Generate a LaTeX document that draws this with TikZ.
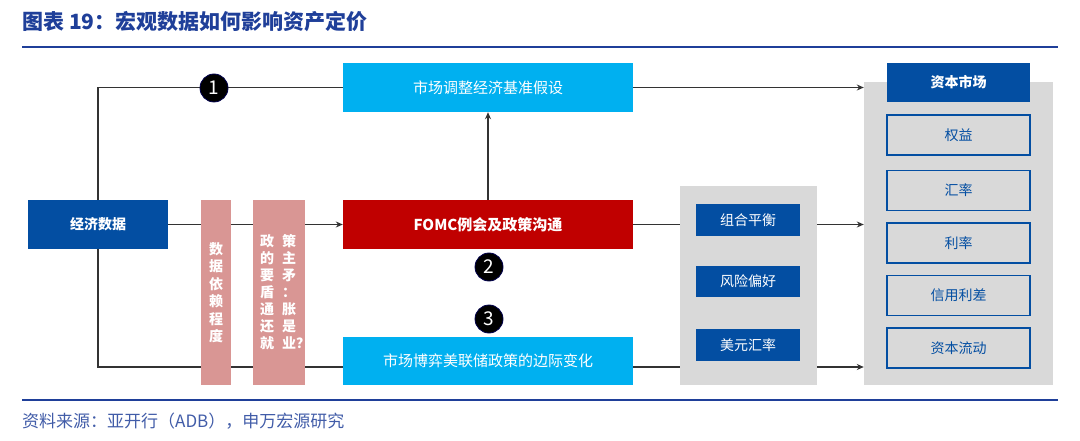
\documentclass[tikz,border=0pt]{standalone}
\usepackage{fontspec}
\setmainfont{Noto Sans CJK SC}
\usetikzlibrary{arrows.meta,calc}
\definecolor{dblue}{HTML}{034EA2}
\definecolor{cyanbox}{HTML}{00B0F0}
\definecolor{redbox}{HTML}{C00000}
\definecolor{pinkbox}{HTML}{D99694}
\definecolor{panel}{HTML}{D9D9D9}
\definecolor{titleblue}{HTML}{1F3F99}
\definecolor{linec}{HTML}{333333}
\pgfdeclarelayer{bg}
\pgfsetlayers{bg,main}
\tikzset{
  box/.style={rectangle, inner sep=0pt, text=white},
  bluebox/.style={box, fill=dblue},
  item/.style={rectangle, inner sep=0pt, fill=panel, draw=dblue, line width=1.6pt, text=dblue, font=\fontsize{14}{16}\selectfont, minimum width=143, minimum height=40},
  conn/.style={draw=linec, line width=1.4pt},
  arr/.style={conn, -{Stealth[length=7pt,width=6pt]}},
  num/.style={circle, fill=black, draw=black!70!blue, line width=0.8pt, minimum size=28, inner sep=0pt, text=white, font=\fontsize{19}{19}\selectfont},
  pink/.style={rectangle, inner sep=0pt, fill=pinkbox, minimum height=185},
}
\begin{document}
\begin{tikzpicture}[x=1pt,y=-1pt]
\useasboundingbox (0,0) rectangle (1080,441);
% title
\node[anchor=west, inner sep=0pt, text=titleblue, font=\fontsize{21}{23}\selectfont\bfseries] (title) at (22,22) {图表 19：宏观数据如何影响资产定价};
\draw[titleblue, line width=2.2pt] (22,47) -- (1058,47);
\draw[titleblue, line width=2pt] (22,400) -- (1058,400);
\node[anchor=west, inner sep=0pt, text=titleblue!85!white, font=\fontsize{17}{19}\selectfont] (src) at (22,421) {资料来源：亚开行（ADB），申万宏源研究};

% panels
\node[rectangle, fill=panel, minimum width=137, minimum height=199, inner sep=0pt] (mid) at (748.5,285.5) {};
\node[rectangle, fill=panel, minimum width=189, minimum height=303, inner sep=0pt] (rp) at (958.5,233.5) {};

% main boxes
\node[bluebox, minimum width=140, minimum height=49, font=\fontsize{14}{16}\selectfont\bfseries] (eco) at (98,224.5) {经济数据};
\node[box, fill=cyanbox, minimum width=290, minimum height=49, font=\fontsize{15}{17}\selectfont] (top) at (488,87.5) {市场调整经济基准假设};
\node[box, fill=redbox, minimum width=290, minimum height=49, font=\fontsize{15}{17}\selectfont\bfseries] (fomc) at (488,224.5) {FOMC例会及政策沟通};
\node[box, fill=cyanbox, minimum width=290, minimum height=48, font=\fontsize{15}{17}\selectfont] (bot) at (488,361) {市场博弈美联储政策的边际变化};

% pink columns
\node[pink, minimum width=30] (p1) at (216,292.5) {};
\node[pink, minimum width=52] (p2) at (279,292.5) {};
\node[align=center, inner sep=0pt, text=white, font=\fontsize{14}{17.5}\selectfont\bfseries] (p1t) at (p1.center) {数\\据\\依\\赖\\程\\度};
\node[anchor=west, align=left, inner sep=0pt, text=white, font=\fontsize{14}{17}\selectfont\bfseries] (p2t) at (260,292.5) {政\hspace{8pt}策\\的\hspace{8pt}主\\要\hspace{8pt}矛\\盾\hspace{8pt}：\\通\hspace{8pt}胀\\还\hspace{8pt}是\\就\hspace{8pt}业？};

% middle boxes
\node[bluebox, minimum width=104, minimum height=32, font=\fontsize{14}{16}\selectfont] (b1) at (748,220) {组合平衡};
\node[bluebox, minimum width=104, minimum height=31, font=\fontsize{14}{16}\selectfont] (b2) at (748,281.5) {风险偏好};
\node[bluebox, minimum width=104, minimum height=32, font=\fontsize{14}{16}\selectfont] (b3) at (748,345) {美元汇率};

% right panel
\node[bluebox, minimum width=143, minimum height=39, font=\fontsize{14}{16}\selectfont\bfseries] (cm) at (958.5,82.5) {资本市场};
\node[item] (i1) at (958.5,135) {权益};
\node[item] (i2) at (958.5,190.5) {汇率};
\node[item] (i3) at (958.5,243) {利率};
\node[item] (i4) at (958.5,295.5) {信用利差};
\node[item] (i5) at (958.5,348) {资本流动};

% connectors
\coordinate (bl) at ($(bot.west)+(0,6)$);
\coordinate (br) at ($(bot.east)+(0,6)$);
\begin{pgfonlayer}{bg}
\draw[conn] (eco.north) |- (top.west);
\draw[arr] (top.east) -- (top.east -| rp.west);
\draw[arr] (eco.east) -- (fomc.west);
\draw[conn] (eco.south) |- (bl);
\draw[arr] (fomc.north) -- (top.south);
\draw[conn] (fomc.east) -- (fomc.east -| mid.west);
\draw[arr] (fomc.east -| mid.east) -- (fomc.east -| rp.west);
\draw[conn] (br) -- (br -| mid.west);
\draw[arr] (br -| mid.east) -- (br -| rp.west);
\end{pgfonlayer}

% numbers
\node[num] (n1) at (214,88) {1};
\node[num] (n2) at (489,267) {2};
\node[num] (n3) at (489,319) {3};
\end{tikzpicture}
\end{document}
